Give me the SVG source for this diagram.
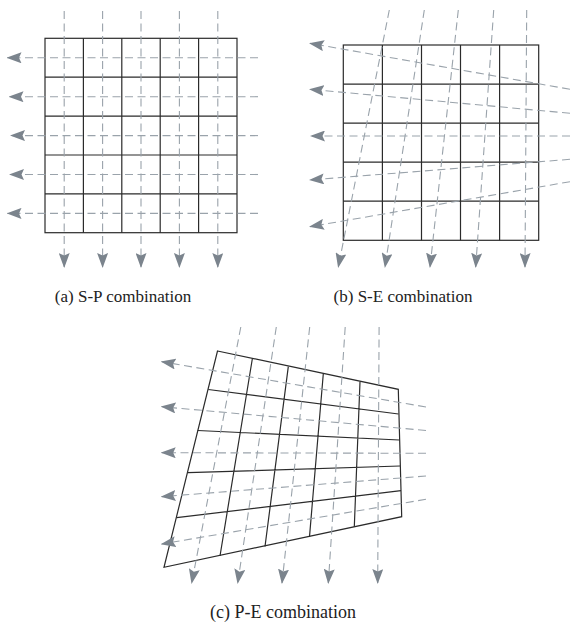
<svg xmlns="http://www.w3.org/2000/svg" width="570" height="625" viewBox="0 0 570 625">
<style>
.g{stroke:#2b2b2b;stroke-width:1.2;fill:none}
.d{stroke:#9aa3ab;stroke-width:1.1;stroke-dasharray:8 4.5;fill:none;marker-end:url(#ah)}
.t{font-family:"Liberation Serif","Times New Roman",serif;fill:#222;text-anchor:middle}
</style>
<defs>
<marker id="ah" viewBox="0 0 15 11" refX="14" refY="5.5" markerWidth="15" markerHeight="11" markerUnits="userSpaceOnUse" orient="auto">
<path d="M0,0 L15,5.5 L0,11 L2.5,5.5 z" fill="#7b848d"/>
</marker>
</defs>
<rect width="570" height="625" fill="#fff"/>

<g id="grid-a">
<rect class="g" x="45" y="38.3" width="192" height="194.4"/>
<path class="g" d="M83.4,38.3V232.7M121.8,38.3V232.7M160.2,38.3V232.7M198.6,38.3V232.7M45,77.2H237M45,116.1H237M45,155H237M45,193.9H237"/>
</g>
<g id="arrows-a">
<line class="d" x1="64.2" y1="11" x2="64.2" y2="267"/>
<line class="d" x1="102.6" y1="11" x2="102.6" y2="267"/>
<line class="d" x1="141" y1="11" x2="141" y2="267"/>
<line class="d" x1="179.4" y1="11" x2="179.4" y2="267"/>
<line class="d" x1="217.8" y1="11" x2="217.8" y2="267"/>
<line class="d" x1="258" y1="57.8" x2="7.5" y2="57.8"/>
<line class="d" x1="258" y1="96.7" x2="9.5" y2="96.7"/>
<line class="d" x1="258" y1="135.6" x2="11" y2="135.6"/>
<line class="d" x1="258" y1="174.5" x2="10" y2="174.5"/>
<line class="d" x1="258" y1="213.4" x2="7.5" y2="213.4"/>
</g>
<text id="label-a" class="t" x="123" y="302" font-size="17">(a) S-P combination</text>

<g id="grid-b">
<rect class="g" x="343.3" y="45" width="195.4" height="195.3"/>
<path class="g" d="M382.4,45V240.3M421.5,45V240.3M460.5,45V240.3M499.6,45V240.3M343.3,84.1H538.7M343.3,123.1H538.7M343.3,162.2H538.7M343.3,201.2H538.7"/>
</g>
<g id="arrows-b">
<line class="d" x1="389.3" y1="10" x2="338.3" y2="267"/>
<line class="d" x1="424.3" y1="10" x2="385" y2="267"/>
<line class="d" x1="458.3" y1="10" x2="430" y2="267"/>
<line class="d" x1="493.7" y1="10" x2="475.7" y2="267"/>
<line class="d" x1="526.7" y1="10" x2="525" y2="267"/>
<line class="d" x1="570" y1="89.3" x2="310" y2="43.3"/>
<line class="d" x1="570" y1="113.3" x2="310" y2="89.3"/>
<line class="d" x1="570" y1="136" x2="311" y2="136"/>
<line class="d" x1="570" y1="159.3" x2="310" y2="180"/>
<line class="d" x1="570" y1="181.7" x2="310" y2="226.7"/>
</g>
<text id="label-b" class="t" x="403" y="302" font-size="17">(b) S-E combination</text>

<g id="grid-c">
<polygon class="g" points="217.5,351 398.3,389.3 401.7,516.7 164,567.3"/>
<path class="g" d="M252.3,359L220,556M288.3,366.7L265,546.5M323.3,373.7L309.5,536.7M360,381.7L354.3,526.7M208.3,389.5L398.5,414M197.7,430.5L399.3,440M188,472.7L400,466M176.7,517.7L401,490.7"/>
</g>
<g id="arrows-c">
<line class="d" x1="240.8" y1="327" x2="191.7" y2="583"/>
<line class="d" x1="276.3" y1="327" x2="237.7" y2="583"/>
<line class="d" x1="309.7" y1="327" x2="282" y2="583"/>
<line class="d" x1="345.2" y1="327" x2="328.3" y2="583"/>
<line class="d" x1="379.1" y1="327" x2="377.7" y2="583"/>
<line class="d" x1="426" y1="407" x2="161.7" y2="361.7"/>
<line class="d" x1="426" y1="430.5" x2="161.7" y2="406.7"/>
<line class="d" x1="426" y1="453.3" x2="161.7" y2="452.7"/>
<line class="d" x1="426" y1="476" x2="161.7" y2="496.7"/>
<line class="d" x1="426" y1="499.3" x2="161.7" y2="544"/>
</g>
<text id="label-c" class="t" x="283" y="618" font-size="18">(c) P-E combination</text>
</svg>
